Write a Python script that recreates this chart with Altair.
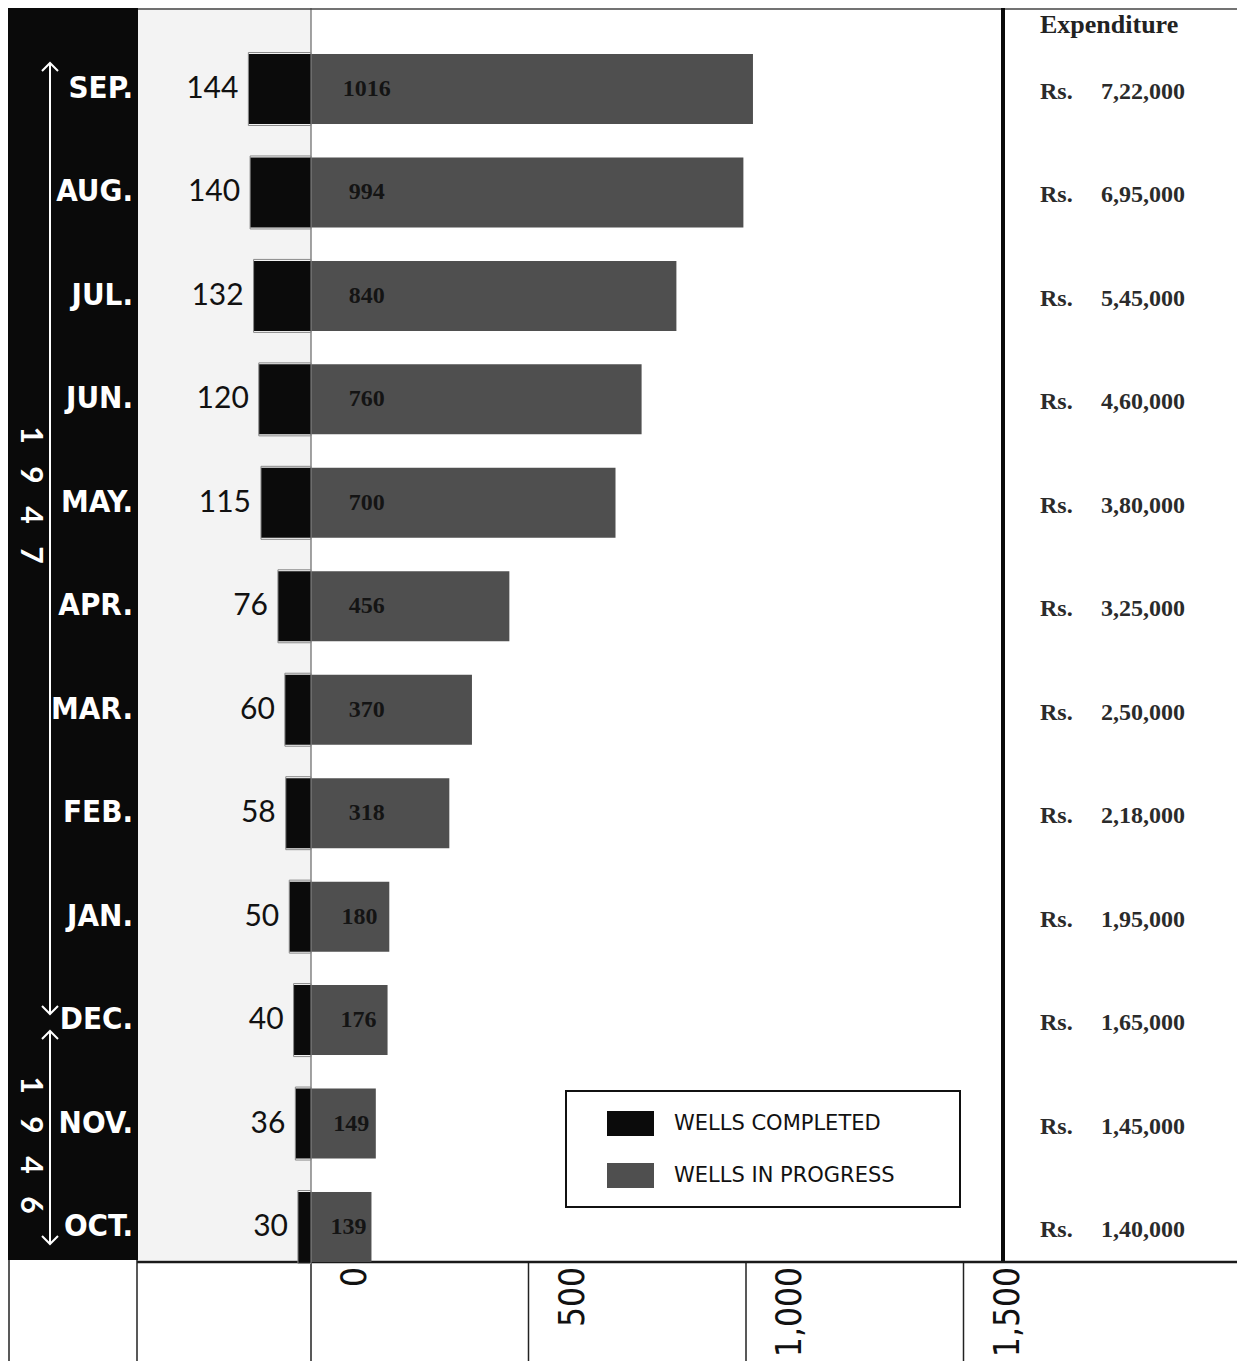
import altair as alt
import pandas as pd

# ---------------- data ----------------
months = ["SEP.", "AUG.", "JUL.", "JUN.", "MAY.", "APR.", "MAR.", "FEB.",
          "JAN.", "DEC.", "NOV.", "OCT."]
wells_completed = [144, 140, 132, 120, 115, 76, 60, 58, 50, 40, 36, 30]
wells_in_progress = [1016, 994, 840, 760, 700, 456, 370, 318, 180, 176, 149, 139]
expenditure = ["7,22,000", "6,95,000", "5,45,000", "4,60,000", "3,80,000",
               "3,25,000", "2,50,000", "2,18,000", "1,95,000", "1,65,000",
               "1,45,000", "1,40,000"]
years = ["1947", "1946"]
tick_values = [0, 500, 1000, 1500]
tick_labels = ["0", "500", "1,000", "1,500"]
series_names = ["WELLS COMPLETED", "WELLS IN PROGRESS"]
series_colors = ["#0b0b0b", "#4f4f4f"]

rows = pd.DataFrame({
    "idx": list(range(len(months))),
    "month": months,
    "completed": wells_completed,
    "progress": wells_in_progress,
    "exp": expenditure,
})
rows["neg"] = -rows["completed"]

bars = pd.DataFrame(
    [{"idx": i, "series": series_names[0], "x0": -c, "x1": 0}
     for i, c in enumerate(wells_completed)]
    + [{"idx": i, "series": series_names[1], "x0": 0, "x1": p}
       for i, p in enumerate(wells_in_progress)]
)
ticks = pd.DataFrame({"v": tick_values, "label": tick_labels})
one = pd.DataFrame({"k": [0]})

# ---------------- scales ----------------
W, H = 1229, 1254
xs = alt.Scale(domain=[0, 1500], range=[303, 955.5], nice=False, zero=False, padding=0)
ys = alt.Scale(domain=[0, 11], range=[81, 1219], nice=False, zero=False, padding=0)

NARROW = "DejaVu Sans Condensed, Liberation Sans Narrow, sans-serif"
SERIF = "Liberation Serif, DejaVu Serif, serif"


def deco():
    return alt.Chart(one)


band = deco().mark_rect(color="#0a0a0a").encode(
    x=alt.value(0), x2=alt.value(130), y=alt.value(0), y2=alt.value(1252))
grey = deco().mark_rect(color="#f3f3f3").encode(
    x=alt.value(130), x2=alt.value(303), y=alt.value(0), y2=alt.value(1252))
top_line = deco().mark_rule(color="#444444", strokeWidth=1.5).encode(
    x=alt.value(130), x2=alt.value(W), y=alt.value(1))
right_line = deco().mark_rule(color="#0a0a0a", strokeWidth=4).encode(
    x=alt.value(995), y=alt.value(0), y2=alt.value(1254))
bottom_line = deco().mark_rule(color="#1a1a1a", strokeWidth=2.5).encode(
    x=alt.value(129), x2=alt.value(W), y=alt.value(1254))
low_left1 = deco().mark_rule(color="#222222", strokeWidth=1.5).encode(
    x=alt.value(1), y=alt.value(1252), y2=alt.value(1353))
low_left2 = deco().mark_rule(color="#222222", strokeWidth=1.5).encode(
    x=alt.value(129), y=alt.value(1252), y2=alt.value(1353))
legend_box = deco().mark_rect(fill="white", stroke="#111111", strokeWidth=2).encode(
    x=alt.value(558), x2=alt.value(952), y=alt.value(1083), y2=alt.value(1199))

# zero line through the plot
zero_line = deco().mark_rule(color="#666666", strokeWidth=1.2).encode(
    x=alt.XDatum(0, type="quantitative", scale=xs, axis=None),
    y=alt.value(0), y2=alt.value(1254))

# scale ticks below the frame
tick_rules = alt.Chart(ticks).mark_rule(color="#222222", strokeWidth=1.5).encode(
    x=alt.X("v:Q", scale=xs, axis=None),
    y=alt.value(1254), y2=alt.value(1353))
tick_text = alt.Chart(ticks).mark_text(
    angle=270, align="right", baseline="middle", dy=44,
    font=NARROW, fontSize=35, color="#111111"
).encode(
    x=alt.X("v:Q", scale=xs, axis=None),
    y=alt.value(1259),
    text="label:N",
)

bar_layer = alt.Chart(bars).mark_bar(size=70).encode(
    x=alt.X("x0:Q", scale=xs, axis=None),
    x2="x1:Q",
    y=alt.Y("idx:Q", scale=ys, axis=None),
    color=alt.Color("series:N",
                    scale=alt.Scale(domain=series_names, range=series_colors),
                    legend=alt.Legend(orient="none", legendX=599, legendY=1092,
                                      title=None, padding=0,
                                      symbolType="M-1,-0.532H1V0.532H-1Z",
                                      symbolSize=2209, symbolStrokeWidth=0,
                                      symbolOpacity=1,
                                      labelFont="DejaVu Sans", labelFontSize=21,
                                      labelColor="#111111", labelOffset=20,
                                      labelLimit=400, rowPadding=15)),
)

outline = alt.Chart(bars).transform_filter(
    alt.datum.series == series_names[0]
).mark_bar(size=73, filled=False, stroke="#8a8a8a", strokeWidth=1).encode(
    x=alt.X("x0:Q", scale=xs, axis=None),
    x2="x1:Q",
    y=alt.Y("idx:Q", scale=ys, axis=None),
)

comp_text = alt.Chart(rows).mark_text(
    align="right", baseline="middle", dx=-10, font="Lato", fontSize=30, color="#111111"
).encode(
    x=alt.X("neg:Q", scale=xs, axis=None),
    y=alt.Y("idx:Q", scale=ys, axis=None),
    text="completed:Q",
)

# in-progress label sits near the start of its bar, pulled in for short bars
prog_text = alt.Chart(rows).transform_calculate(
    lx="min(datum.progress * 0.62, 128)"
).mark_text(
    align="center", baseline="middle", font=SERIF, fontWeight="bold",
    fontSize=24, color="#141414"
).encode(
    x=alt.X("lx:Q", scale=xs, axis=None),
    y=alt.Y("idx:Q", scale=ys, axis=None),
    text="progress:Q",
)

month_text = alt.Chart(rows).mark_text(
    align="right", baseline="middle", font=NARROW, fontWeight="bold",
    fontSize=31, color="white"
).encode(
    x=alt.value(125),
    y=alt.Y("idx:Q", scale=ys, axis=None),
    text="month:N",
)

exp_header = deco().mark_text(
    text="Expenditure", align="left", baseline="middle", font=SERIF,
    fontWeight="bold", fontSize=26, color="#222222"
).encode(x=alt.value(1032), y=alt.value(17))

exp_rs = alt.Chart(rows).mark_text(
    text="Rs.", align="left", baseline="middle", dy=3, font=SERIF,
    fontWeight="bold", fontSize=24, color="#2b2b2b"
).encode(x=alt.value(1032), y=alt.Y("idx:Q", scale=ys, axis=None))

exp_val = alt.Chart(rows).mark_text(
    align="left", baseline="middle", dy=3, font=SERIF,
    fontWeight="bold", fontSize=24, color="#2b2b2b"
).encode(x=alt.value(1093), y=alt.Y("idx:Q", scale=ys, axis=None), text="exp:N")

year_layers = []
for yr, ypix in zip(years, [487, 1137]):
    year_layers.append(
        deco().mark_text(
            text="\u2003".join(yr), angle=90, align="center", baseline="middle",
            font="Lato", fontWeight="bold", fontSize=30, color="white"
        ).encode(x=alt.value(22), y=alt.value(ypix))
    )

arrow_layers = []
for top, bot in [(56, 1005), (1024, 1235)]:
    arrow_layers.append(deco().mark_rule(color="white", strokeWidth=2).encode(
        x=alt.value(42), y=alt.value(top), y2=alt.value(bot)))
    arrow_layers.append(deco().mark_point(
        shape="M-1,1L0,0L1,1", size=256, filled=False, color="white",
        strokeWidth=2, opacity=1).encode(x=alt.value(42), y=alt.value(top - 1)))
    arrow_layers.append(deco().mark_point(
        shape="M-1,-1L0,0L1,-1", size=256, filled=False, color="white",
        strokeWidth=2, opacity=1).encode(x=alt.value(42), y=alt.value(bot + 1)))

chart = alt.layer(
    band, grey, zero_line, tick_rules, top_line, right_line, bottom_line,
    low_left1, low_left2, legend_box, bar_layer, outline, comp_text, prog_text,
    month_text, tick_text, exp_header, exp_rs, exp_val, *year_layers, *arrow_layers
).properties(
    width=W, height=H,
    padding={"left": 0, "top": 0, "right": 0, "bottom": 99},
    autosize=alt.AutoSizeParams(type="none"),
    background="white",
).configure_view(strokeWidth=0)

chart.save("out.html", embed_options={"renderer": "svg", "actions": False})
